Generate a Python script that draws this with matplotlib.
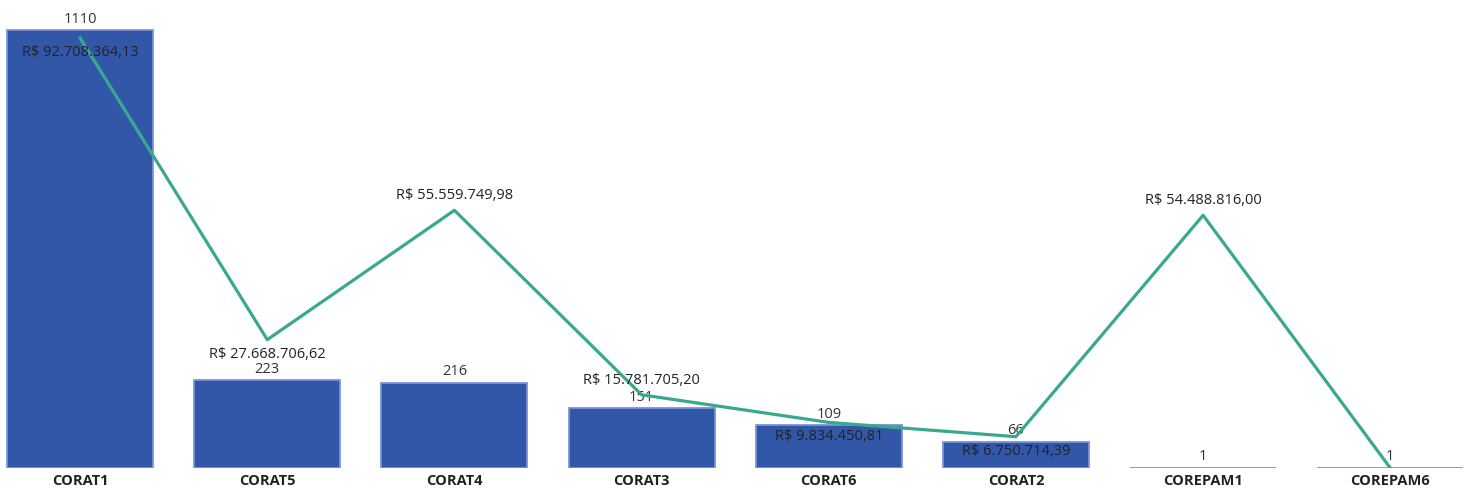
import numpy as np
import matplotlib.pyplot as plt

plt.rcParams['font.family'] = ['Open Sans', 'DejaVu Sans']

# dados
categorias = ["CORAT1", "CORAT5", "CORAT4", "CORAT3", "CORAT6", "CORAT2", "COREPAM1", "COREPAM6"]
quantidade = [1110, 223, 216, 151, 109, 66, 1, 1]
valor = [92708364.13, 27668706.62, 55559749.98, 15781705.20, 9834450.81, 6750714.39, 54488816.00, 5000.00]
rotulos_valor = ["R$ 92.708.364,13", "R$ 27.668.706,62", "R$ 55.559.749,98", "R$ 15.781.705,20",
                 "R$ 9.834.450,81", "R$ 6.750.714,39", "R$ 54.488.816,00", ""]
# posicao do rotulo do valor: acima (1) ou abaixo (-1) do ponto
lado_rotulo = [-1, -1, 1, 1, -1, -1, 1, 1]

fig = plt.figure(figsize=(14.67, 4.91), dpi=100)
base = 23 / 491
ax = fig.add_axes([0, base, 1, 1 - base])
x = np.arange(len(categorias))

ax.bar(x, quantidade, width=0.78, color="#3357A8", edgecolor="#7B93DA", linewidth=1.3, zorder=1)
ax.set_xlim(-0.428, 7.41)
ax.set_ylim(0, 1110 * 468 / 438)

for xi, q in zip(x, quantidade):
    ax.annotate(str(q), (xi, q), xytext=(0, 2.5), textcoords="offset points",
                ha="center", va="bottom", fontsize=10.5, color="#333333")

ax.set_xticks(x)
ax.set_xticklabels(categorias, fontsize=10.5, fontweight="bold", color="#222222")
ax.tick_params(axis="x", length=0, pad=4.5)
ax.set_yticks([])
for s in ax.spines.values():
    s.set_visible(False)

ax2 = ax.twinx()
ax2.plot(x, valor, color="#3AA88F", linewidth=2.3, zorder=3)
ax2.set_ylim(0, 92708364.13 * 468 / 430)
ax2.set_yticks([])
for s in ax2.spines.values():
    s.set_visible(False)

for xi, v, r, lado in zip(x, valor, rotulos_valor, lado_rotulo):
    if not r:
        continue
    ax2.annotate(r, (xi, v), xytext=(0, 5 * lado), textcoords="offset points",
                 ha="center", va="bottom" if lado > 0 else "top",
                 fontsize=10.5, color="#222222", zorder=4)

fig.savefig("out.png", dpi=100)
